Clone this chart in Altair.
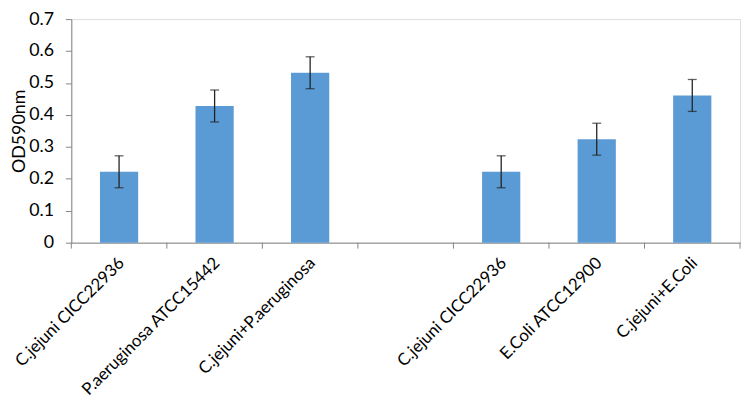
import altair as alt
import pandas as pd

labels = ["C.jejuni CICC22936", "P.aeruginosa ATCC15442", "C.jejuni+P.aeruginosa", "",
          "C.jejuni CICC22936", "E.Coli ATCC12900", "C.jejuni+E.Coli"]
positions = [0, 1, 2, 3, 4, 5, 6]
values = [0.222, 0.428, 0.532, None, 0.222, 0.324, 0.461]
errors = [0.05, 0.05, 0.05, None, 0.05, 0.05, 0.05]
yticks = [0, 0.1, 0.2, 0.3, 0.4, 0.5, 0.6, 0.7]

df = pd.DataFrame({"pos": positions, "value": values, "err": errors})
df["lo"] = df["value"] - df["err"]
df["hi"] = df["value"] + df["err"]
bars_df = df.dropna()
ticks_df = pd.DataFrame({"pos": positions})
last_df = pd.DataFrame({"pos": positions[-1:]})

FONT = "Lato"
GRAY = "#868686"
H = 226
label_js = "[" + ",".join("'" + l + "'" for l in labels) + "]"

xscale = alt.Scale(domain=positions, paddingInner=0, paddingOuter=0)
x_axis = alt.Axis(title=None, labelAngle=-45, labelExpr=label_js + "[datum.value]",
                  ticks=False, domainColor=GRAY, labelFont=FONT, labelFontSize=17,
                  labelColor="black", labelPadding=12, labelOffset=-3, labelLimit=300,
                  labelOverlap=False)
y_scale = alt.Scale(domain=[0, 0.7], nice=False, zero=True)
y_axis = alt.Axis(values=yticks, format=".1~f", grid=False, tickColor=GRAY, domainColor=GRAY,
                  tickSize=6, labelFont=FONT, labelFontSize=18, labelColor="black",
                  labelPadding=12, labelOverlap=False, labelFlush=False,
                  title="OD590nm", titleFont=FONT, titleFontSize=18,
                  titleFontWeight="normal", titleColor="black", titlePadding=0)

base = alt.Chart(bars_df)
bars = base.mark_bar(color="#5B9BD5", width=alt.RelativeBandSize(0.4)).encode(
    x=alt.X("pos:O", scale=xscale, axis=x_axis),
    y=alt.Y("value:Q", scale=y_scale, axis=y_axis),
)
err = base.mark_rule(color="#222222", strokeWidth=1.3).encode(
    x=alt.X("pos:O", scale=xscale, axis=x_axis),
    y=alt.Y("lo:Q", scale=y_scale, axis=y_axis),
    y2="hi:Q",
)
cap_hi = base.mark_tick(color="#222222", size=9, thickness=1.3).encode(
    x=alt.X("pos:O", scale=xscale, axis=x_axis),
    y=alt.Y("hi:Q", scale=y_scale, axis=y_axis),
)
cap_lo = base.mark_tick(color="#222222", size=9, thickness=1.3).encode(
    x=alt.X("pos:O", scale=xscale, axis=x_axis),
    y=alt.Y("lo:Q", scale=y_scale, axis=y_axis),
)
xticks = alt.Chart(ticks_df).mark_rule(color=GRAY, strokeWidth=1).encode(
    x=alt.X("pos:O", scale=xscale, bandPosition=0, axis=x_axis),
    y=alt.value(H), y2=alt.value(H + 6),
)
xtick_end = alt.Chart(last_df).mark_rule(color=GRAY, strokeWidth=1).encode(
    x=alt.X("pos:O", scale=xscale, bandPosition=1, axis=x_axis),
    y=alt.value(H), y2=alt.value(H + 6),
)

chart = alt.layer(bars, err, cap_hi, cap_lo, xticks, xtick_end).properties(
    width=676, height=H,
    autosize=alt.AutoSizeParams(type="none"),
    padding={"left": 64, "top": 9, "right": 2, "bottom": 175},
).configure_view(stroke=None).configure(background="white")

chart.save("out.html", embed_options={"renderer": "svg", "actions": False})
